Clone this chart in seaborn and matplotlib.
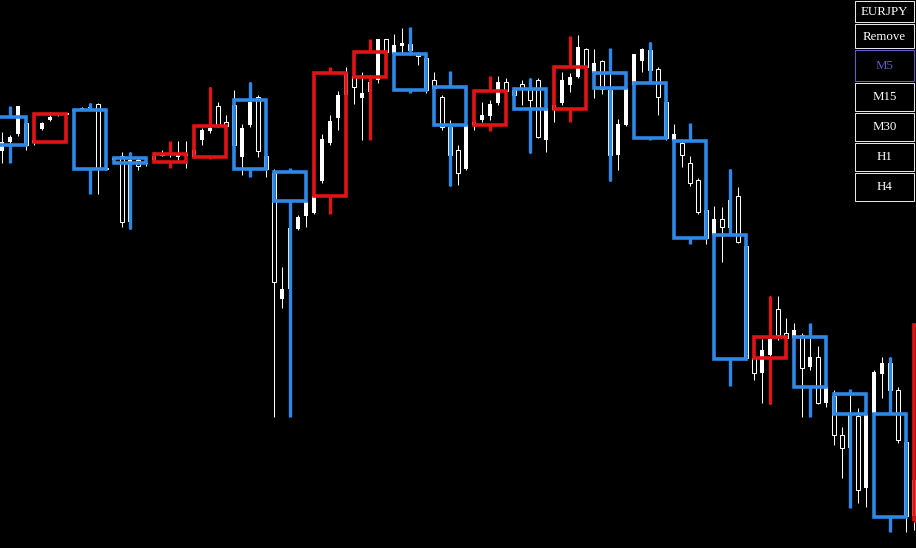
# -*- coding: utf-8 -*-
import numpy as np
import pandas as pd
import matplotlib
matplotlib.use("Agg")
import matplotlib.pyplot as plt
from matplotlib.patches import Rectangle
import seaborn as sns

# EURJPY M1 bars (price in points)
m1_open = [431, 397, 406, 414, 425, 405, 419, 428, 433, 434,
           437, 439, 440, 444, 380, 388, 392, 326, 388, 384,
           388, 395, 393, 391, 392, 391, 408, 417, 442, 426,
           443, 391, 423, 451, 392, 375, 249, 259, 319, 332,
           335, 367, 405, 430, 453, 472, 450, 456, 468, 509,
           494, 502, 504, 495, 490, 468, 451, 421, 398, 379,
           423, 428, 432, 445, 466, 458, 464, 460, 468, 408,
           438, 445, 463, 471, 499, 475, 487, 458, 393, 423,
           463, 487, 498, 479, 446, 407, 405, 385, 368, 338,
           313, 329, 320, 352, 302, 190, 175, 193, 239, 215,
           210, 213, 181, 191, 145, 152, 113, 100, 132, 60,
           135, 174, 185, 158, 106, 32]
m1_high = [436, 416, 413, 442, 427, 416, 426, 436, 435, 435,
           438, 441, 445, 445, 381, 391, 396, 396, 390, 387,
           396, 398, 394, 407, 407, 405, 420, 461, 446, 433,
           458, 424, 466, 453, 398, 379, 281, 343, 333, 348,
           370, 414, 433, 457, 481, 476, 476, 473, 509, 509,
           514, 520, 520, 496, 492, 476, 453, 428, 403, 398,
           431, 446, 448, 472, 470, 461, 468, 470, 470, 442,
           446, 476, 475, 513, 500, 499, 488, 498, 429, 462,
           494, 500, 506, 481, 448, 424, 408, 392, 370, 343,
           342, 341, 379, 361, 306, 195, 209, 252, 252, 230,
           225, 215, 210, 202, 163, 158, 121, 156, 140, 135,
           178, 191, 191, 161, 108, 78]
m1_low = [423, 385, 404, 412, 398, 403, 418, 427, 432, 433,
          436, 438, 439, 354, 378, 387, 321, 319, 378, 382,
          386, 392, 391, 388, 380, 390, 403, 415, 421, 420,
          395, 373, 421, 391, 371, 131, 240, 256, 318, 321,
          334, 365, 403, 418, 451, 444, 408, 453, 465, 493,
          493, 495, 493, 483, 455, 458, 418, 362, 363, 378,
          418, 426, 428, 443, 456, 440, 443, 395, 410, 396,
          426, 443, 456, 470, 470, 450, 454, 367, 378, 422,
          462, 476, 476, 433, 408, 406, 381, 362, 334, 304,
          312, 286, 318, 305, 188, 168, 145, 144, 208, 191,
          206, 131, 178, 144, 141, 103, 70, 43, 45, 41,
          133, 150, 153, 105, 16, 18]
m1_close = [428, 406, 411, 442, 403, 408, 425, 431, 435, 434,
            438, 440, 441, 380, 379, 390, 326, 388, 382, 385,
            392, 393, 394, 393, 394, 398, 418, 420, 423, 422,
            403, 420, 446, 397, 379, 266, 259, 320, 331, 346,
            352, 409, 427, 453, 475, 461, 455, 466, 509, 496,
            503, 505, 498, 492, 458, 460, 421, 393, 375, 423,
            426, 433, 444, 466, 457, 453, 460, 448, 411, 440,
            443, 468, 471, 501, 481, 485, 459, 393, 424, 460,
            494, 499, 478, 451, 410, 414, 393, 365, 336, 310,
            329, 321, 348, 306, 190, 175, 198, 209, 213, 210,
            218, 180, 191, 145, 161, 113, 100, 135, 58, 133,
            176, 185, 158, 108, 32, 68]

# EURJPY M5 bars built on the same chart
m5_open = [431, 406, 438, 390, 386, 391, 448, 376, 352, 471, 494, 461,
           423, 459, 439, 475, 465, 407, 313, 190, 211, 154, 134, 27]
m5_high = [442, 436, 445, 396, 407, 461, 466, 380, 481, 509, 521, 477,
           472, 470, 512, 500, 506, 425, 379, 252, 225, 159, 191, 223]
m5_low = [385, 406, 354, 319, 380, 389, 371, 131, 334, 408, 455, 362,
          417, 395, 426, 367, 408, 304, 162, 144, 131, 40, 16, 18]
m5_close = [403, 434, 379, 385, 394, 422, 379, 347, 475, 496, 458, 423,
            457, 439, 481, 460, 410, 310, 189, 211, 161, 134, 31, 223]

buttons = ["EURJPY", "Remove", "M5", "M15", "M30", "H1", "H4"]
active_tf = "M5"

sns.set_style("dark", {"axes.facecolor": "black", "figure.facecolor": "black"})
plt.rcParams['font.family'] = ['Liberation Serif', 'DejaVu Serif']

m1 = pd.DataFrame({'open': m1_open, 'high': m1_high, 'low': m1_low, 'close': m1_close})
m1['x'] = np.arange(len(m1))
m5 = pd.DataFrame({'open': m5_open, 'high': m5_high, 'low': m5_low, 'close': m5_close})
m5['x'] = np.arange(len(m5)) * 5 + 2

up_col = '#e01414'
down_col = '#2e88e6'
px = 72 / 100  # one pixel in points

fig = plt.figure(figsize=(9.16, 5.48), dpi=100)
ax = fig.add_axes([0, 0, 1, 1])
ax.set_xlim(0.75, 115.25)
ax.set_ylim(0, 548)
ax.axis('off')

# M1 candles
ax.vlines(m1['x'], m1['low'], m1['high'], color='white', lw=px, zorder=1)
bull = m1['close'] > m1['open']
body_bot = np.minimum(m1['open'], m1['close'])
body_h = np.maximum((m1['close'] - m1['open']).abs(), 1)
ax.bar(m1['x'][bull], body_h[bull], bottom=body_bot[bull], width=0.62,
       color='white', linewidth=0, zorder=2)
ax.bar(m1['x'][~bull], body_h[~bull], bottom=body_bot[~bull], width=0.5,
       facecolor='black', edgecolor='white', linewidth=px, zorder=2)

# M5 candles drawn as hollow boxes over the M1 bars
for _, r in m5.iterrows():
    col = up_col if r['close'] > r['open'] else down_col
    top = max(r['open'], r['close'])
    bot = min(r['open'], r['close'])
    if r['high'] > top:
        ax.vlines(r['x'], top, r['high'], color=col, lw=2.4, capstyle='butt', zorder=4)
    if r['low'] < bot:
        ax.vlines(r['x'], r['low'], bot, color=col, lw=2.4, capstyle='butt', zorder=4)
    ax.add_patch(Rectangle((r['x'] - 2, bot), 4, top - bot, fill=False,
                           edgecolor=col, lw=2.6, joinstyle='miter', zorder=5))

# timeframe buttons, top right
panel = fig.add_axes([0, 0, 1, 1], facecolor='none')
panel.set_xlim(0, 916)
panel.set_ylim(548, 0)
panel.axis('off')
btn_top = [1, 24, 50, 83, 113, 143, 173]
btn_bot = [22, 48, 81, 111, 141, 171, 201]
for label, t, b in zip(buttons, btn_top, btn_bot):
    is_active = label == active_tf
    edge = '#6a5acd' if is_active else '#e6e6e6'
    txt = '#5f5fc4' if is_active else 'white'
    panel.add_patch(Rectangle((855, t), 59, b - t, facecolor='black',
                              edgecolor=edge, lw=px, zorder=6))
    panel.text(884.5, (t + b) / 2 + 0.5, label, color=txt, ha='center', va='center',
               fontsize=9.3, zorder=7)

fig.savefig('out.png', dpi=100, facecolor='black')
